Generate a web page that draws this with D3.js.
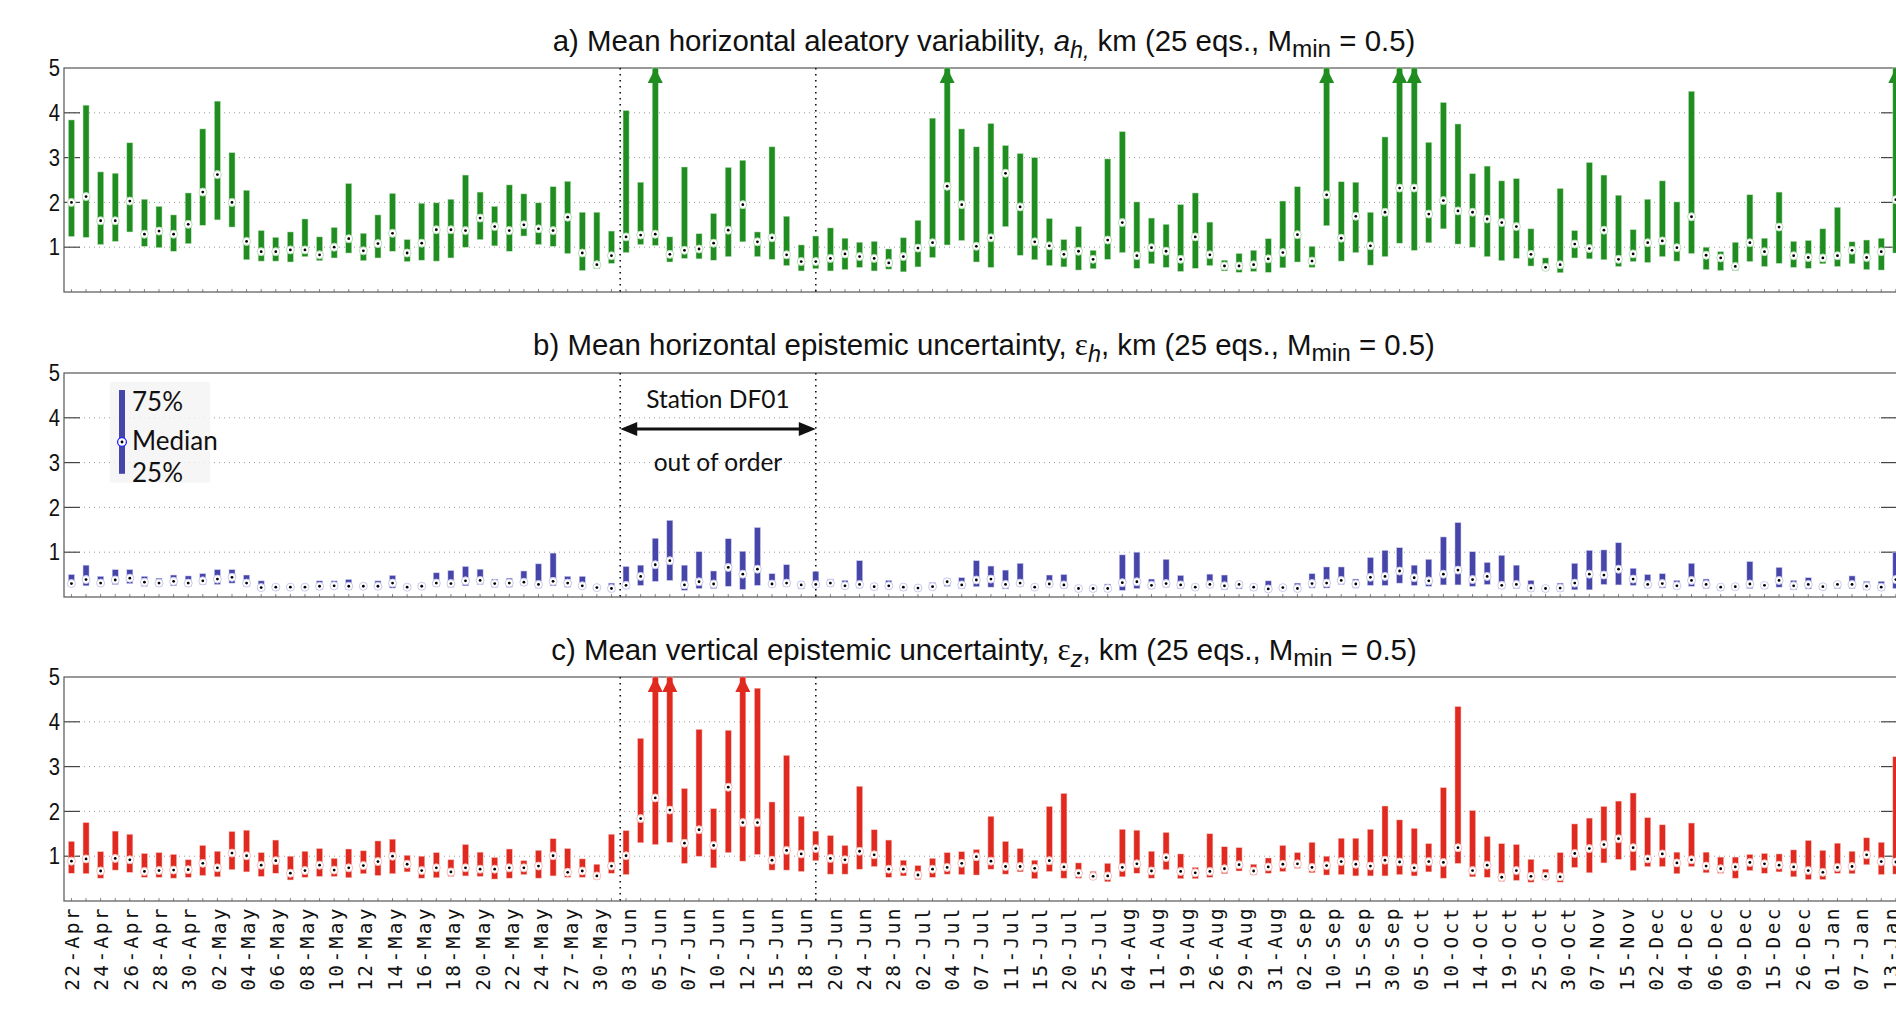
<!DOCTYPE html>
<html>
<head>
<meta charset="utf-8">
<script src="https://cdn.jsdelivr.net/npm/d3@7"></script>
<style>
  body { margin: 0; background: #fff; overflow: hidden; }
</style>
</head>
<body>
<div id="container"></div>
<script>
// Chart size
const width = 1896;
const height = 1015;

// Tick labels under the bottom panel (one every second bar)
const dayLabels = ["22-Apr","24-Apr","26-Apr","28-Apr","30-Apr","02-May","04-May","06-May","08-May","10-May",
  "12-May","14-May","16-May","18-May","20-May","22-May","24-May","27-May","30-May","03-Jun",
  "05-Jun","07-Jun","10-Jun","12-Jun","15-Jun","18-Jun","20-Jun","24-Jun","28-Jun","02-Jul",
  "04-Jul","07-Jul","11-Jul","15-Jul","20-Jul","25-Jul","04-Aug","11-Aug","19-Aug","26-Aug",
  "29-Aug","31-Aug","02-Sep","10-Sep","15-Sep","30-Sep","05-Oct","10-Oct","14-Oct","19-Oct",
  "25-Oct","30-Oct","07-Nov","15-Nov","02-Dec","04-Dec","06-Dec","09-Dec","15-Dec","26-Dec",
  "01-Jan","07-Jan","13-Jan"];

// Station DF01 out of order, between these bar positions
const outOfOrder = [37.6, 51.0];

// a) horizontal aleatory variability (km): 25%, median, 75%  (values > 5 are off scale)
const aQ25 = [1.24,1.22,1.06,1.13,1.34,1.02,0.99,0.91,1.08,1.49,1.61,1.45,0.72,0.69,0.69,0.67,0.79,0.70,0.76,0.87,
  0.70,0.76,0.91,0.68,0.71,0.69,0.76,1.00,1.17,1.03,0.91,1.25,1.06,1.02,0.86,0.48,0.52,0.64,0.88,1.06,
  1.04,0.67,0.75,0.74,0.71,0.79,1.12,0.79,0.73,0.59,0.47,0.52,0.47,0.50,0.55,0.47,0.51,0.45,0.56,0.77,
  1.05,1.15,0.67,0.55,1.46,0.82,0.72,0.59,0.56,0.49,0.52,0.73,0.88,0.53,0.63,0.55,0.46,0.53,0.59,0.47,
  0.44,0.46,0.44,0.54,0.67,0.55,1.48,0.69,0.88,0.60,0.79,1.09,0.93,1.10,1.41,1.07,1.00,0.79,0.70,0.75,
  0.58,0.48,0.43,0.76,0.74,0.72,0.57,0.68,0.66,0.79,0.69,0.86,0.50,0.48,0.48,0.68,0.57,0.64,0.55,0.53,
  0.63,0.57,0.63,0.50,0.49,0.87];
const aMed = [2.00,2.13,1.59,1.59,2.03,1.29,1.36,1.29,1.51,2.23,2.62,2.00,1.13,0.90,0.90,0.94,0.94,0.83,1.00,1.19,
  0.92,1.08,1.31,0.87,1.09,1.39,1.39,1.37,1.65,1.46,1.37,1.50,1.41,1.37,1.67,0.87,0.61,0.81,1.23,1.27,
  1.29,0.84,0.93,0.96,1.09,1.38,1.95,1.12,1.21,0.83,0.68,0.68,0.75,0.85,0.79,0.75,0.65,0.79,0.98,1.10,
  2.36,1.95,1.02,1.21,2.65,1.90,1.12,1.03,0.84,0.91,0.73,1.16,1.55,0.81,0.99,0.91,0.73,1.23,0.83,0.58,
  0.58,0.61,0.74,0.88,1.28,0.69,2.17,1.20,1.69,1.03,1.78,2.32,2.32,1.74,2.04,1.81,1.78,1.63,1.55,1.46,
  0.84,0.55,0.61,1.07,0.97,1.38,0.73,0.85,1.10,1.14,0.99,1.68,0.82,0.76,0.57,1.10,0.90,1.45,0.81,0.77,
  0.76,0.81,0.93,0.77,0.90,2.06];
const aQ75 = [3.84,4.17,2.68,2.65,3.33,2.07,1.91,1.72,2.21,3.64,4.26,3.11,2.27,1.37,1.22,1.34,1.63,1.23,1.44,2.42,
  1.31,1.72,2.20,1.17,1.98,1.99,2.07,2.61,2.23,1.91,2.39,2.19,1.99,2.35,2.47,1.78,1.78,1.36,4.05,2.45,
  5.5,1.23,2.79,1.30,1.75,2.78,2.94,1.34,3.24,1.69,1.05,1.25,1.43,1.20,1.11,1.13,0.96,1.21,1.60,3.88,
  5.5,3.64,3.24,3.76,3.27,3.09,3.00,1.64,1.17,1.46,0.93,2.97,3.58,2.01,1.65,1.51,1.95,2.21,1.56,0.71,
  0.86,0.93,1.19,2.03,2.35,1.02,5.5,2.46,2.45,1.78,3.46,5.5,5.5,3.34,4.23,3.75,2.64,2.81,2.48,2.53,
  1.41,0.76,2.31,1.37,2.89,2.61,2.16,1.39,2.07,2.48,2.01,4.48,1.00,0.90,1.11,2.17,1.20,2.23,1.13,1.15,
  1.41,1.89,1.12,1.16,1.20,5.5];

// b) horizontal epistemic uncertainty (km)
const bQ25 = [0.28,0.25,0.25,0.28,0.30,0.24,0.24,0.25,0.24,0.28,0.28,0.31,0.24,0.16,0.16,0.16,0.18,0.16,0.18,0.16,
  0.18,0.18,0.20,0.16,0.18,0.24,0.22,0.25,0.28,0.22,0.22,0.25,0.20,0.25,0.22,0.19,0.16,0.15,0.18,0.26,
  0.35,0.37,0.15,0.19,0.19,0.24,0.17,0.26,0.24,0.24,0.18,0.21,0.24,0.19,0.20,0.16,0.18,0.15,0.15,0.16,
  0.24,0.19,0.23,0.22,0.18,0.24,0.16,0.24,0.19,0.13,0.13,0.13,0.15,0.19,0.18,0.22,0.19,0.16,0.21,0.16,
  0.18,0.15,0.13,0.15,0.13,0.20,0.20,0.28,0.20,0.26,0.26,0.31,0.26,0.24,0.27,0.27,0.24,0.28,0.18,0.19,
  0.13,0.13,0.13,0.16,0.16,0.28,0.27,0.26,0.20,0.20,0.18,0.24,0.19,0.15,0.16,0.19,0.19,0.22,0.16,0.18,
  0.16,0.19,0.19,0.16,0.15,0.19];
const bMed = [0.30,0.39,0.31,0.38,0.42,0.33,0.31,0.35,0.31,0.36,0.40,0.44,0.31,0.21,0.22,0.22,0.22,0.24,0.25,0.24,
  0.24,0.24,0.31,0.22,0.24,0.31,0.30,0.36,0.37,0.30,0.31,0.33,0.28,0.35,0.31,0.25,0.21,0.19,0.26,0.46,
  0.72,0.81,0.27,0.34,0.29,0.66,0.51,0.62,0.29,0.31,0.27,0.28,0.31,0.25,0.28,0.23,0.25,0.22,0.20,0.23,
  0.34,0.27,0.38,0.40,0.28,0.31,0.22,0.29,0.27,0.19,0.19,0.19,0.32,0.34,0.26,0.30,0.27,0.22,0.28,0.25,
  0.28,0.22,0.18,0.21,0.19,0.30,0.31,0.37,0.29,0.44,0.46,0.58,0.43,0.36,0.51,0.60,0.39,0.46,0.26,0.28,
  0.20,0.19,0.20,0.31,0.51,0.49,0.62,0.40,0.28,0.30,0.25,0.37,0.28,0.22,0.23,0.29,0.26,0.37,0.25,0.28,
  0.23,0.28,0.28,0.24,0.22,0.39];
const bQ75 = [0.50,0.71,0.46,0.61,0.61,0.46,0.42,0.49,0.47,0.52,0.61,0.61,0.49,0.36,0.28,0.27,0.28,0.36,0.36,0.39,
  0.30,0.36,0.48,0.28,0.30,0.54,0.59,0.68,0.62,0.40,0.42,0.58,0.74,0.98,0.46,0.46,0.25,0.31,0.68,0.71,
  1.31,1.71,0.71,1.01,0.58,1.30,1.02,1.55,0.52,0.72,0.34,0.57,0.40,0.37,0.81,0.27,0.37,0.25,0.24,0.32,
  0.42,0.43,0.81,0.69,0.60,0.75,0.26,0.49,0.50,0.24,0.24,0.29,0.94,1.00,0.40,0.84,0.48,0.27,0.51,0.49,
  0.34,0.27,0.36,0.27,0.31,0.52,0.67,0.67,0.40,0.88,1.04,1.10,0.71,0.84,1.34,1.66,1.01,0.77,0.93,0.71,
  0.37,0.22,0.31,0.75,1.04,1.05,1.21,0.64,0.50,0.52,0.37,0.75,0.40,0.27,0.27,0.79,0.31,0.66,0.37,0.43,
  0.27,0.33,0.47,0.35,0.35,1.00];

// c) vertical epistemic uncertainty (km)
const cQ25 = [0.62,0.61,0.51,0.69,0.64,0.53,0.53,0.51,0.53,0.57,0.54,0.70,0.65,0.55,0.62,0.47,0.53,0.55,0.55,0.52,
  0.61,0.57,0.61,0.65,0.51,0.52,0.55,0.56,0.55,0.49,0.51,0.59,0.51,0.56,0.53,0.53,0.48,0.62,0.59,1.30,
  1.26,1.31,0.84,1.00,0.74,1.08,0.89,1.04,0.69,0.69,0.66,0.90,0.60,0.60,0.71,0.77,0.53,0.56,0.48,0.53,
  0.60,0.59,0.58,0.71,0.60,0.65,0.50,0.66,0.51,0.51,0.49,0.43,0.54,0.62,0.51,0.70,0.50,0.50,0.53,0.61,
  0.67,0.58,0.62,0.66,0.73,0.63,0.58,0.59,0.56,0.56,0.56,0.59,0.56,0.65,0.51,0.84,0.54,0.53,0.44,0.46,
  0.42,0.47,0.42,0.75,0.63,0.85,0.93,0.68,0.77,0.77,0.61,0.77,0.63,0.62,0.51,0.68,0.62,0.65,0.54,0.48,
  0.48,0.62,0.61,0.81,0.59,0.60];
const cMed = [0.89,0.94,0.67,0.95,0.92,0.66,0.68,0.69,0.70,0.84,0.74,1.07,1.01,0.80,0.90,0.62,0.68,0.80,0.69,0.74,
  0.79,0.88,1.00,0.82,0.68,0.74,0.65,0.74,0.71,0.71,0.74,0.74,0.78,1.01,0.64,0.67,0.56,0.78,1.01,1.84,
  2.30,2.03,1.29,1.59,1.24,2.54,1.75,1.75,0.91,1.13,1.05,1.17,0.95,0.92,1.11,1.03,0.71,0.71,0.58,0.71,
  0.75,0.84,0.99,0.89,0.77,0.77,0.73,0.90,0.76,0.62,0.55,0.56,0.75,0.83,0.67,0.97,0.66,0.63,0.66,0.72,
  0.81,0.67,0.76,0.82,0.83,0.75,0.79,0.88,0.82,0.78,0.91,0.87,0.74,0.88,0.86,1.19,0.68,0.80,0.53,0.68,
  0.55,0.55,0.54,1.06,1.17,1.26,1.39,1.19,0.94,1.05,0.85,0.92,0.78,0.72,0.76,0.86,0.83,0.80,0.76,0.68,
  0.64,0.75,0.77,1.03,0.88,0.87];
const cQ75 = [1.33,1.75,1.10,1.56,1.49,1.06,1.08,1.04,0.92,1.24,1.11,1.55,1.58,1.08,1.36,1.00,1.11,1.17,0.95,1.16,
  1.12,1.34,1.38,1.02,1.00,1.08,0.92,1.26,1.09,0.97,1.16,0.90,1.13,1.39,1.17,0.94,0.82,1.49,1.57,3.63,
  5.5,5.5,2.51,3.83,2.06,3.81,5.5,4.75,2.21,3.25,1.89,1.56,1.46,1.24,2.56,1.59,1.36,0.91,0.79,0.95,
  1.08,1.10,1.15,1.89,1.33,1.17,0.91,2.11,2.40,0.85,0.66,0.84,1.60,1.58,1.11,1.53,1.05,0.75,1.50,1.21,
  1.19,0.82,0.96,1.24,1.08,1.31,1.00,1.40,1.40,1.60,2.12,1.81,1.62,1.28,2.53,4.34,2.02,1.44,1.28,1.26,
  0.93,0.71,1.08,1.72,1.85,2.11,2.23,2.41,1.86,1.70,1.09,1.74,1.09,0.98,0.98,1.04,1.06,1.05,1.14,1.35,
  1.13,1.29,1.11,1.41,1.31,3.22];

const panels = [
  { q25: aQ25, med: aMed, q75: aQ75, color: "#1f8d1f", ring: "#b9e0b9", top: 68, bottom: 292,
    titleY: 51, titleW: 863,
    title: [["a) Mean horizontal aleatory variability, ", "n"], ["a", "i"], ["h,", "is"], [" km (25 eqs., M", "n"], ["min", "s"], [" = 0.5)", "n"]] },
  { q25: bQ25, med: bMed, q75: bQ75, color: "#4646aa", ring: "#c9c9ee", top: 373, bottom: 597,
    titleY: 355, titleW: 902,
    title: [["b) Mean horizontal epistemic uncertainty, ", "n"], ["\u03b5", "g"], ["h", "is"], [", km (25 eqs., M", "n"], ["min", "s"], [" = 0.5)", "n"]] },
  { q25: cQ25, med: cMed, q75: cQ75, color: "#e0291f", ring: "#f6c0bc", top: 677, bottom: 901,
    titleY: 660, titleW: 866,
    title: [["c) Mean vertical epistemic uncertainty, ", "n"], ["\u03b5", "g"], ["z", "is"], [", km (25 eqs., M", "n"], ["min", "s"], [" = 0.5)", "n"]] }
];

const marginLeft = 64;
const plotRight = 1897;
const barW = 6;
const yMax = 5;

const x = d3.scaleLinear()
    .domain([-0.51, 125.08])
    .range([marginLeft, plotRight]);

// label positions drift a little from the bar positions in the original
const xLab = d3.scaleLinear()
    .domain([0, 124])
    .range([72, 1891]);

const svg = d3.select("#container")
    .append("svg")
    .attr("width", width)
    .attr("height", height)
    .style("font-family", "'Liberation Sans', Arial, sans-serif");

const idx = d3.range(aMed.length);

panels.forEach((p, pi) => {
  const y = d3.scaleLinear().domain([0, yMax]).range([p.bottom, p.top]);
  const g = svg.append("g");

  // dotted grid
  g.selectAll(".grid")
    .data([1, 2, 3, 4])
    .enter().append("line")
    .attr("x1", marginLeft).attr("x2", plotRight)
    .attr("y1", d => y(d)).attr("y2", d => y(d))
    .attr("stroke", "#9a9a9a").attr("stroke-width", 1)
    .attr("stroke-dasharray", "1,4");

  // inner tick marks, left and right
  [1, 2, 3, 4].forEach(t => {
    g.append("line").attr("x1", marginLeft).attr("x2", marginLeft + 16)
      .attr("y1", y(t)).attr("y2", y(t)).attr("stroke", "#444").attr("stroke-width", 1.2);
    g.append("line").attr("x1", plotRight - 16).attr("x2", plotRight)
      .attr("y1", y(t)).attr("y2", y(t)).attr("stroke", "#444").attr("stroke-width", 1.2);
  });

  // minor ticks along the bottom
  g.selectAll(".minor")
    .data(idx)
    .enter().append("line")
    .attr("x1", d => x(d)).attr("x2", d => x(d))
    .attr("y1", y(0)).attr("y2", y(0) - 3)
    .attr("stroke", "#888").attr("stroke-width", 1);

  // frame
  g.append("rect")
    .attr("x", marginLeft).attr("y", y(yMax))
    .attr("width", plotRight - marginLeft).attr("height", y(0) - y(yMax))
    .attr("fill", "none").attr("stroke", "#555").attr("stroke-width", 1.2);

  // y tick labels
  g.selectAll(".ylab")
    .data([1, 2, 3, 4, 5])
    .enter().append("text")
    .attr("transform", d => `translate(60,${y(d)}) scale(0.88,1)`)
    .attr("dy", "0.36em")
    .attr("text-anchor", "end")
    .attr("font-size", 23)
    .attr("fill", "#111")
    .text(d => d);

  // out-of-order dotted markers
  g.selectAll(".ooo")
    .data(outOfOrder)
    .enter().append("line")
    .attr("x1", d => x(d)).attr("x2", d => x(d))
    .attr("y1", y(yMax)).attr("y2", y(0))
    .attr("stroke", "#111").attr("stroke-width", 1.6)
    .attr("stroke-dasharray", "1.6,4.4");

  // bars 25% - 75%
  g.selectAll(".bar")
    .data(idx)
    .enter().append("rect")
    .attr("x", d => x(d) - barW / 2)
    .attr("width", barW)
    .attr("y", d => y(Math.min(p.q75[d], yMax)))
    .attr("height", d => y(p.q25[d]) - y(Math.min(p.q75[d], yMax)))
    .attr("fill", p.color)
    .attr("stroke", p.ring).attr("stroke-width", 0.5);

  // arrow heads for values above the scale
  const over = idx.filter(d => p.q75[d] > yMax);
  g.selectAll(".arrowhead")
    .data(over)
    .enter().append("path")
    .attr("d", d => {
      const cx = x(d), ty = y(yMax);
      return `M${cx},${ty}L${cx - 7.5},${ty + 15}L${cx + 7.5},${ty + 15}Z`;
    })
    .attr("fill", p.color);

  // median markers
  g.selectAll(".med")
    .data(idx)
    .enter().append("circle")
    .attr("cx", d => x(d)).attr("cy", d => y(p.med[d]))
    .attr("r", 4)
    .attr("fill", "#fff")
    .attr("stroke", p.ring).attr("stroke-width", 1);
  g.selectAll(".dot")
    .data(idx)
    .enter().append("circle")
    .attr("cx", d => x(d)).attr("cy", d => y(p.med[d]))
    .attr("r", 1.4)
    .attr("fill", "#000");

  // title
  const t = svg.append("text")
    .attr("x", 984).attr("y", p.titleY)
    .attr("text-anchor", "middle")
    .attr("font-size", 29)
    .attr("fill", "#111");
  let shift = 0;
  p.title.forEach(([s, kind]) => {
    const ts = t.append("tspan").text(s);
    let target = 0;
    if (kind === "i") ts.attr("font-style", "italic");
    if (kind === "g") ts.attr("font-family", "'Liberation Serif', serif").attr("font-size", 31);
    if (kind === "is") { ts.attr("font-style", "italic").attr("font-size", 23); target = 7; }
    if (kind === "s") { ts.attr("font-size", 24); target = 6; }
    if (target !== shift) { ts.attr("dy", target - shift); shift = target; }
  });
  const w = t.node().getComputedTextLength();
  t.attr("transform", `translate(984,0) scale(${p.titleW / w},1) translate(-984,0)`);

  // extras for panel b: legend and annotation
  if (pi === 1) {
    const lg = svg.append("g");
    lg.append("rect")
      .attr("x", 110).attr("y", y(4.8)).attr("width", 100).attr("height", y(2.55) - y(4.8))
      .attr("fill", "#f4f4f4").attr("opacity", 0.8);
    lg.append("rect")
      .attr("x", 122 - barW / 2).attr("width", barW)
      .attr("y", y(4.62)).attr("height", y(2.75) - y(4.62))
      .attr("fill", p.color);
    lg.append("circle").attr("cx", 122).attr("cy", y(3.46)).attr("r", 4.4)
      .attr("fill", "#fff").attr("stroke", "#2222ff").attr("stroke-width", 1.3);
    lg.append("circle").attr("cx", 122).attr("cy", y(3.46)).attr("r", 1.4).attr("fill", "#000");
    lg.selectAll("text")
      .data([["75%", 4.37], ["Median", 3.48], ["25%", 2.78]])
      .enter().append("text")
      .attr("x", 132).attr("y", d => y(d[1])).attr("dy", "0.36em")
      .attr("font-family", "Lato, 'Open Sans', sans-serif")
      .attr("font-size", 26)
      .attr("fill", "#111")
      .text(d => d[0]);

    const ax1 = x(outOfOrder[0]), ax2 = x(outOfOrder[1]);
    const ay = y(3.75);
    svg.append("line")
      .attr("x1", ax1 + 12).attr("x2", ax2 - 12).attr("y1", ay).attr("y2", ay)
      .attr("stroke", "#111").attr("stroke-width", 3);
    svg.append("path")
      .attr("d", `M${ax1},${ay}L${ax1 + 17},${ay - 7}L${ax1 + 17},${ay + 7}Z M${ax2},${ay}L${ax2 - 17},${ay - 7}L${ax2 - 17},${ay + 7}Z`)
      .attr("fill", "#111");
    svg.selectAll(".ann")
      .data([["Station DF01", 4.42], ["out of order", 3.0]])
      .enter().append("text")
      .attr("x", (ax1 + ax2) / 2).attr("y", d => y(d[1])).attr("dy", "0.36em")
      .attr("text-anchor", "middle")
      .attr("font-family", "Lato, 'Open Sans', sans-serif")
      .attr("font-size", 24.5)
      .attr("fill", "#111")
      .text(d => d[0]);
  }
});

// rotated date labels
svg.append("g")
  .selectAll("text")
  .data(dayLabels)
  .enter().append("text")
  .attr("transform", (d, i) => `translate(${xLab(i * 2)},906) rotate(-90)`)
  .attr("dy", "0.35em")
  .attr("text-anchor", "end")
  .attr("font-family", "'DejaVu Sans Mono', monospace")
  .attr("font-size", 19.5)
  .attr("letter-spacing", 2.4)
  .attr("fill", "#111")
  .text(d => d);
</script>
</body>
</html>
